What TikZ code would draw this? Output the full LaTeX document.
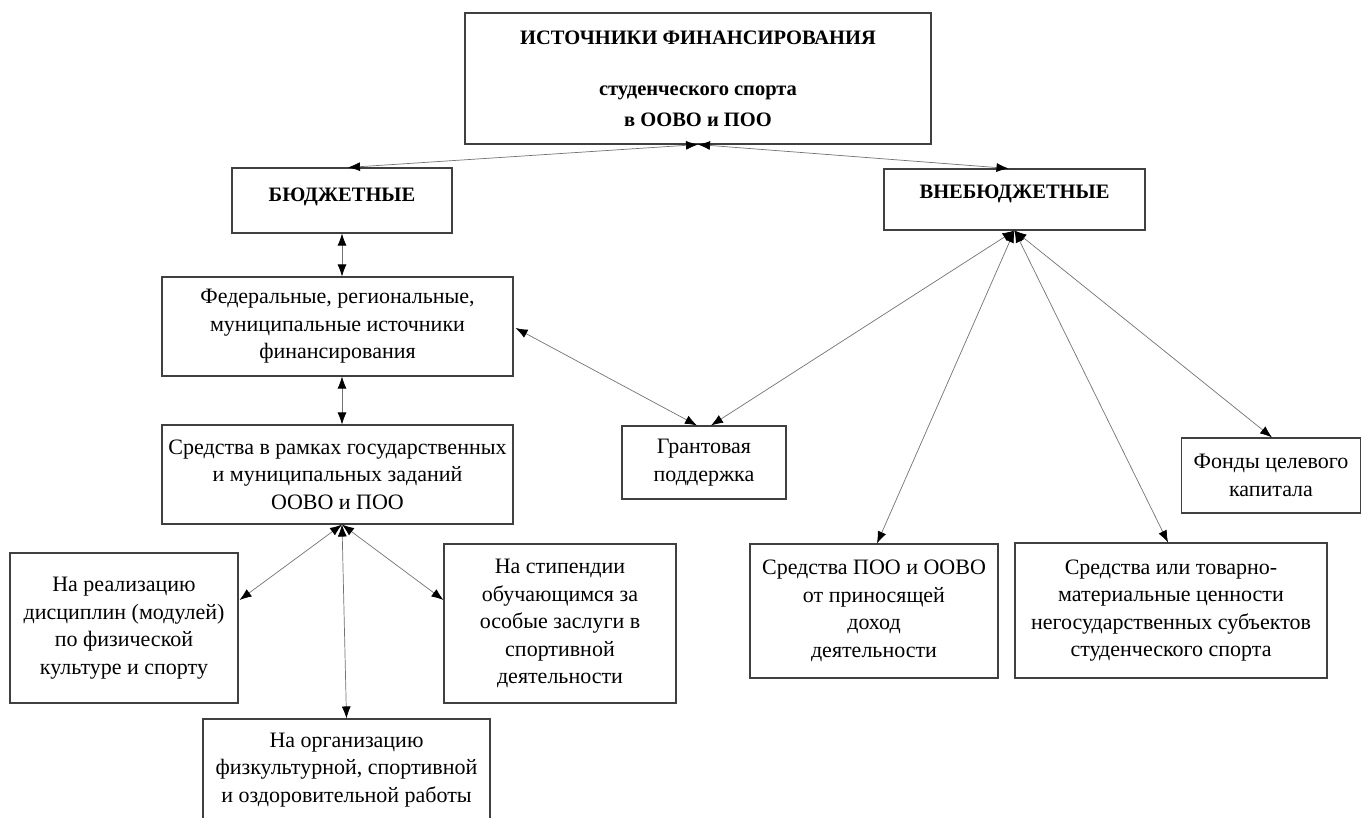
\documentclass[tikz,border=0pt]{standalone}
\usepackage{fontspec}
\setmainfont{Liberation Serif}
\usetikzlibrary{arrows.meta,calc}
\tikzset{
  box/.style={draw=black!75, line width=1.1pt, rectangle, align=center, inner sep=0pt,
    font=\fontsize{22}{27.5}\selectfont, text=black},
  hbox/.style={box, font=\bfseries\fontsize{20.5}{31}\selectfont},
  htext/.style={inner sep=0pt, text=black, font=\bfseries\fontsize{20.5}{31}\selectfont},
  tipA/.tip={Latex[length=12pt,width=9pt,color=black]},
  conn/.style={draw=black!55, line width=0.7pt, tipA-tipA}
}
\begin{document}
\begin{tikzpicture}[x=1pt,y=-1pt]
\useasboundingbox (0,0) rectangle (1362,818);
\fill[white] (0,0) rectangle (1362,818);
% nodes
\node[hbox, minimum width=466pt, minimum height=131pt] (top) at (698,78.5)
  {ИСТОЧНИКИ ФИНАНСИРОВАНИЯ\\[20pt]студенческого спорта\\в ООВО и ПОО};
\node[hbox, minimum width=220pt, minimum height=65pt] (bud) at (342,200.5) {};
\node[htext, anchor=base] (budt) at (342,202) {БЮДЖЕТНЫЕ};
\node[hbox, minimum width=261pt, minimum height=61pt] (vneb) at (1014.5,199.5) {};
\node[htext, anchor=base] (vnebt) at (1014.5,199) {ВНЕБЮДЖЕТНЫЕ};
\node[box, minimum width=351pt, minimum height=99pt] (fed) at (337.5,326.5)
  {Федеральные, региональные,\\муниципальные источники\\финансирования};
\node[box, minimum width=351pt, minimum height=99pt] (sred) at (337.5,474.5)
  {Средства в рамках государственных\\и муниципальных заданий\\ООВО и ПОО};
\node[box, minimum width=164pt, minimum height=73pt] (grant) at (704,462.5)
  {Грантовая\\поддержка};
\node[box, minimum width=179pt, minimum height=75pt] (fond) at (1271,475.5)
  {Фонды целевого\\капитала};
\node[box, minimum width=248pt, minimum height=134pt] (poo) at (874,611)
  {Средства ПОО и ООВО\\от приносящей\\доход\\деятельности};
\node[box, minimum width=312pt, minimum height=135pt] (tov) at (1171,610.5)
  {Средства или товарно-\\материальные ценности\\негосударственных субъектов\\студенческого спорта};
\node[box, minimum width=228pt, minimum height=150pt] (real) at (124,628)
  {На реализацию\\дисциплин (модулей)\\по физической\\культуре и спорту};
\node[box, minimum width=232pt, minimum height=159pt] (stip) at (560,623.5)
  {На стипендии\\обучающимся за\\особые заслуги в\\спортивной\\деятельности};
\node[box, minimum width=287pt, minimum height=102pt] (org) at (346.5,770)
  {На организацию\\физкультурной, спортивной\\и оздоровительной работы};
% connectors
\draw[conn] (top.south) -- ($(bud.north)+(6,0)$);
\draw[conn] (top.south) -- ($(vneb.north)+(-6,0)$);
\draw[conn] (bud.south) -- (bud.south |- fed.north);
\draw[conn] ($(fed.south)+(4.5,0)$) -- ($(sred.north)+(4.5,0)$);
\draw[conn] ($(fed.east)+(2,1.5)$) -- ($(grant.north)+(-7,0)$);
\draw[conn] (vneb.south) -- ($(grant.north)+(7,0)$);
\draw[conn] (vneb.south) -- ($(poo.north)+(3,0)$);
\draw[conn] (vneb.south) -- ($(tov.north)+(-3,0)$);
\draw[conn] (vneb.south) -- ($(fond.north)+(1,0)$);
\draw[conn] ($(sred.south)+(4.5,0)$) -- ($(real.east)+(1,-28)$);
\draw[conn] ($(sred.south)+(4.5,0)$) -- (org.north);
\draw[conn] ($(sred.south)+(4.5,0)$) -- ($(stip.west)+(0,-23.5)$);
\end{tikzpicture}
\end{document}
